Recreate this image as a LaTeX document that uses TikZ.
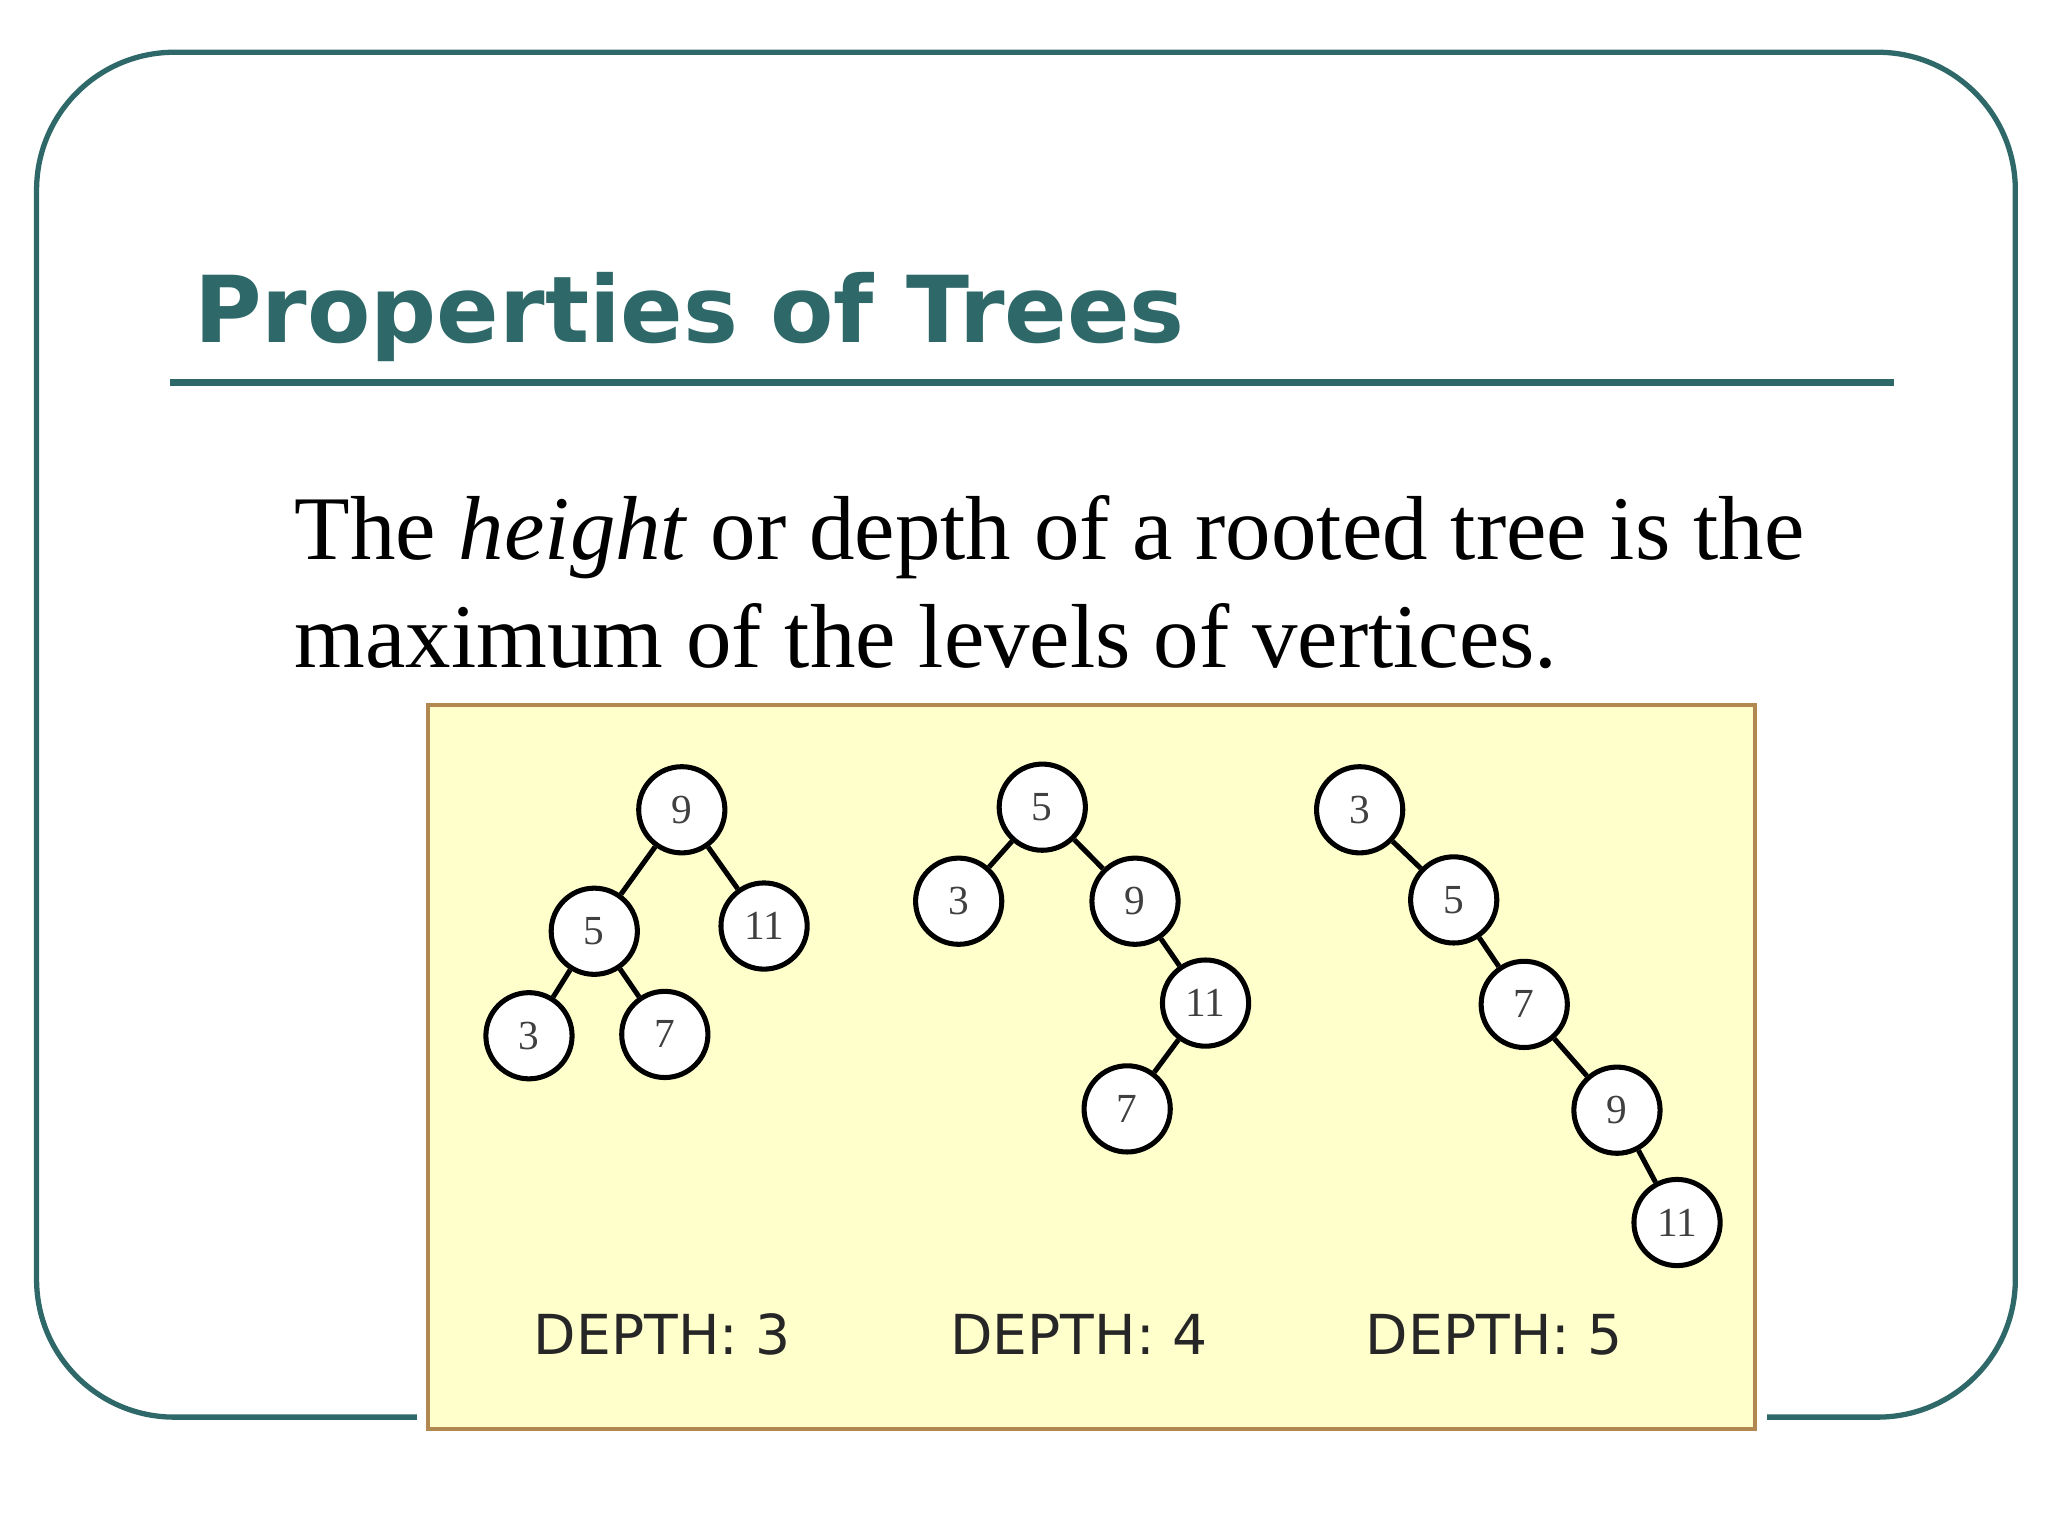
\documentclass[tikz,border=0pt]{standalone}
\usepackage{fontspec}
\setmainfont{Liberation Serif}
\newfontfamily\titlefont{DejaVu Sans}
\newfontfamily\depthfont{DejaVu Sans}
\definecolor{teal1}{RGB}{46,104,104}
\definecolor{boxfill}{RGB}{255,255,204}
\definecolor{boxedge}{RGB}{176,136,80}
\tikzset{
  tn/.style={circle,draw=black,line width=1.1pt,fill=white,minimum size=66*0.01cm,inner sep=0pt,font=\fontsize{9}{9}\selectfont,text=black!75},
  ed/.style={line width=1.1pt,black},
  dl/.style={font=\depthfont\fontsize{12}{12}\selectfont,text=black!85}
}
\begin{document}
\begin{tikzpicture}[x=0.01cm,y=-0.01cm]
\useasboundingbox (0,0) rectangle (1568,1176);
\draw[teal1,line width=1.15pt,rounded corners=30pt] (28,40) rectangle (1543,1085);
\node[anchor=base west,inner sep=0pt,text=teal1,font=\titlefont\bfseries\fontsize{20.1}{20.1}\selectfont] (title) at (148,262) {Properties of Trees};
\draw[teal1,line width=1.4pt] (130,293) -- (1450,293);
\node[anchor=base west,inner sep=0pt,font=\fontsize{19.8}{19.8}\selectfont] (l1) at (225,428) {The \textit{height} or depth of a rooted tree is the};
\node[anchor=base west,inner sep=0pt,font=\fontsize{19.8}{19.8}\selectfont] (l2) at (225,511) {maximum of the levels of vertices.};
\draw[white,line width=5pt] (328,540) rectangle (1344,1094);
\draw[boxedge,fill=boxfill,line width=0.9pt] (328,540) rectangle (1344,1094);
% tree 1
\node[tn] (a9) at (522,620) {9};
\node[tn] (a5) at (455,713) {5};
\node[tn] (a11) at (585,709) {11};
\node[tn] (a3) at (405,793) {3};
\node[tn] (a7) at (509,792) {7};
\draw[ed] (a9)--(a5) (a9)--(a11) (a5)--(a3) (a5)--(a7);
% tree 2
\node[tn] (b5) at (798,618) {5};
\node[tn] (b3) at (734,690) {3};
\node[tn] (b9) at (869,690) {9};
\node[tn] (b11) at (923,768) {11};
\node[tn] (b7) at (863,849) {7};
\draw[ed] (b5)--(b3) (b5)--(b9) (b9)--(b11) (b11)--(b7);
% tree 3
\node[tn] (c3) at (1041,620) {3};
\node[tn] (c5) at (1113,689) {5};
\node[tn] (c7) at (1167,769) {7};
\node[tn] (c9) at (1238,850) {9};
\node[tn] (c11) at (1284,936) {11};
\draw[ed] (c3)--(c5) (c5)--(c7) (c7)--(c9) (c9)--(c11);
\node[dl] (d3) at (507,1022) {DEPTH: 3};
\node[dl] (d4) at (826,1022) {DEPTH: 4};
\node[dl] (d5) at (1144,1022) {DEPTH: 5};
\end{tikzpicture}
\end{document}
